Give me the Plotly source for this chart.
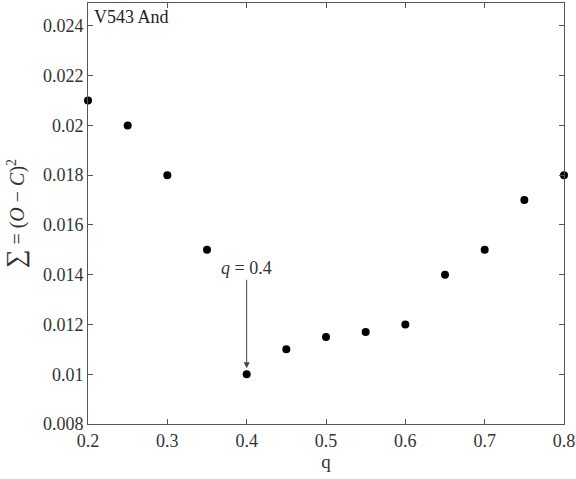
import plotly.graph_objects as go

q_values = [0.2, 0.25, 0.3, 0.35, 0.4, 0.45, 0.5, 0.55, 0.6, 0.65, 0.7, 0.75, 0.8]
sum_oc2 = [0.021, 0.020, 0.018, 0.015, 0.010, 0.011, 0.0115, 0.0117, 0.012, 0.014, 0.015, 0.017, 0.018]
x_ticks = [0.2, 0.3, 0.4, 0.5, 0.6, 0.7, 0.8]
x_tick_text = ["0.2", "0.3", "0.4", "0.5", "0.6", "0.7", "0.8"]
y_ticks = [0.008, 0.010, 0.012, 0.014, 0.016, 0.018, 0.020, 0.022, 0.024]
y_tick_text = ["0.008", "0.01", "0.012", "0.014", "0.016", "0.018", "0.02", "0.022", "0.024"]
best_q = 0.4
best_val = 0.010

FONT = "Liberation Serif"
AX = "#555555"
TXT = "#333333"

fig = go.Figure()
fig.add_trace(go.Scatter(
    x=q_values, y=sum_oc2, mode="markers",
    marker=dict(color="black", size=8),
    cliponaxis=False, showlegend=False,
))

axis_common = dict(
    showgrid=False, zeroline=False, showline=True, linecolor=AX, linewidth=1,
    mirror="ticks", ticks="inside", ticklen=5, tickcolor=AX, automargin=False,
    tickfont=dict(family=FONT, size=18, color=TXT),
)
fig.update_xaxes(range=[0.2, 0.8], tickvals=x_ticks, ticktext=x_tick_text,
                 title=dict(text="q", font=dict(family=FONT, size=19, color=TXT), standoff=0),
                 **axis_common)
fig.update_yaxes(range=[0.008, 0.02492], tickvals=y_ticks, ticktext=y_tick_text,
                 title=dict(text="<span style='font-size:26px'>∑</span> = (<i>O</i> − <i>C</i>)<sup>2</sup>",
                            font=dict(family=FONT, size=20, color=TXT), standoff=12),
                 **axis_common)

fig.add_annotation(
    x=best_q, y=best_val, xref="x", yref="y",
    text="<i>q</i> = 0.4", showarrow=True,
    ax=0, ay=-106, arrowhead=2, arrowsize=1.2, arrowwidth=1, arrowcolor="#444444",
    standoff=6, font=dict(family=FONT, size=18, color=TXT),
)
fig.add_annotation(
    x=0.008, y=0.995, xref="paper", yref="paper", xanchor="left", yanchor="top",
    text="V543 And", showarrow=False,
    font=dict(family=FONT, size=18, color="#222222"),
)

fig.update_layout(
    width=576, height=479,
    margin=dict(l=88, r=12, t=3, b=55),
    plot_bgcolor="white", paper_bgcolor="white",
)
fig.write_html("out.html", config={"displayModeBar": False},
               post_script="document.body.style.margin='0';")
